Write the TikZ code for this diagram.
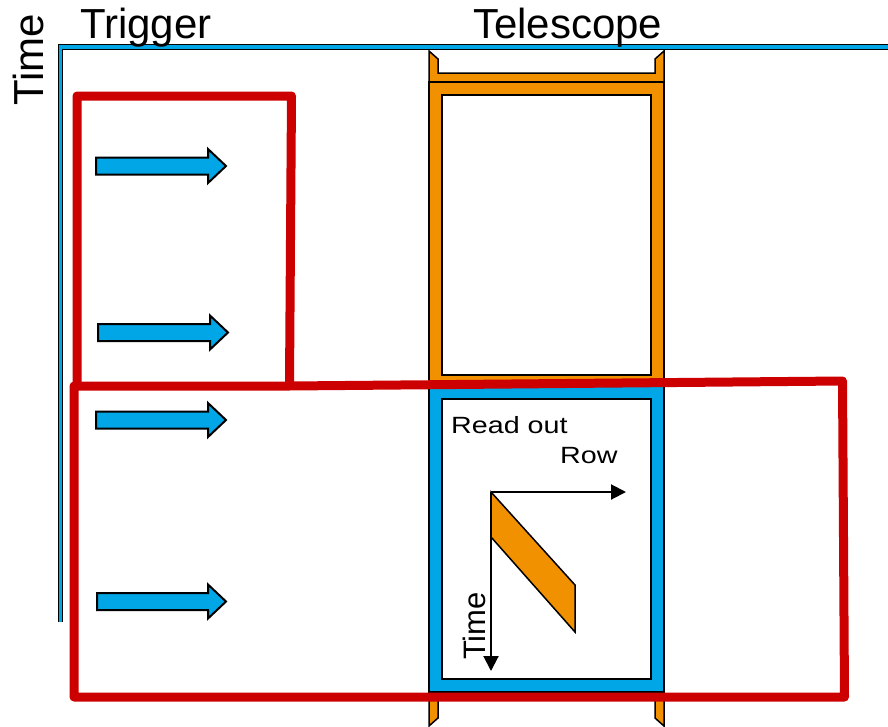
\documentclass[tikz,border=0pt]{standalone}
\usepackage{fontspec}
\setmainfont{Liberation Sans}
\usetikzlibrary{arrows.meta}
\definecolor{cblue}{HTML}{00A6E6}
\definecolor{corange}{HTML}{F29100}
\definecolor{cred}{HTML}{CC0000}
\newcommand{\widetext}[1]{\scalebox{1.22}[1]{#1}}
\begin{document}
\begin{tikzpicture}[x=1pt,y=-1pt,
  frame/.style={draw=black, line width=1.5pt, line join=miter},
  redline/.style={draw=cred, line width=9pt, line join=round},
  arrowbox/.style={draw=black, fill=cblue, line width=2pt, line join=miter},
  bigtext/.style={inner sep=0pt, font=\fontsize{42}{50}\selectfont},
  smalltext/.style={inner sep=0pt, font=\fontsize{23.5}{28}\selectfont},
  axisarrow/.style={draw=black, line width=2pt, -{Triangle[length=15pt,width=15pt]}}
]
\useasboundingbox (0,0) rectangle (888,726);

% main time axis line
\draw[double=cblue, double distance=3.5pt, line width=1.2pt] (60.5,622) -- (60.5,47) -- (888,47);

% titles
\node[bigtext, anchor=base west] (trig) at (80,38) {Trigger};
\node[bigtext, anchor=base west] (tele) at (473,38) {Telescope};
\node[bigtext, anchor=base west, rotate=90] (timeax) at (43,106) {Time};

% telescope: top bracket
\draw[frame, fill=corange] (429,51) -- (438,59) -- (438,73) -- (655,73) -- (655,59) -- (664,51) -- (664,82) -- (429,82) -- cycle;
% orange frame
\draw[frame, fill=corange, even odd rule] (429,82) rectangle (664,385) (442,95) rectangle (651,375);
% blue frame
\draw[frame, fill=cblue, even odd rule] (429,385) rectangle (664,692) (442,399) rectangle (651,679);
% bottom stubs
\draw[frame, fill=corange] (429,692) -- (438,692) -- (438,718) -- (429,726) -- cycle;
\draw[frame, fill=corange] (655,692) -- (664,692) -- (664,726) -- (655,718) -- cycle;

% read-out inset
\coordinate (o) at (491,492);
\coordinate (rowend) at (626,492);
\coordinate (timeend) at (491,671);
\draw[frame, fill=corange] (491,492) -- (491,537) -- (575,632) -- (575,585) -- cycle;
\draw[axisarrow] (o) -- (rowend);
\draw[axisarrow] (o) -- (timeend);
\node[smalltext, anchor=base west] (readout) at (451,433) {\widetext{Read out}};
\node[smalltext, anchor=base west] (row) at (560,463) {\widetext{Row}};
\node[inner sep=0pt, font=\fontsize{31}{36}\selectfont, anchor=base west, rotate=90] (timein) at (485,660) {Time};

% trigger arrows
\foreach \yy/\xa/\xt in {166/96/226, 332.5/98/228, 420/96/226, 601.5/97/226} {
  \draw[arrowbox] (\xa,\yy-8.5) -- (\xt-18,\yy-8.5) -- (\xt-18,\yy-17) -- (\xt,\yy) -- (\xt-18,\yy+17) -- (\xt-18,\yy+8.5) -- (\xa,\yy+8.5) -- cycle;
}

% red trigger windows
\draw[redline] (77,385) -- (77,96) -- (291.5,96) -- (289.5,383);
\draw[redline] (74,697) -- (74,386) -- (289,386) -- (842.5,381) -- (844.5,697) -- cycle;
\end{tikzpicture}
\end{document}
